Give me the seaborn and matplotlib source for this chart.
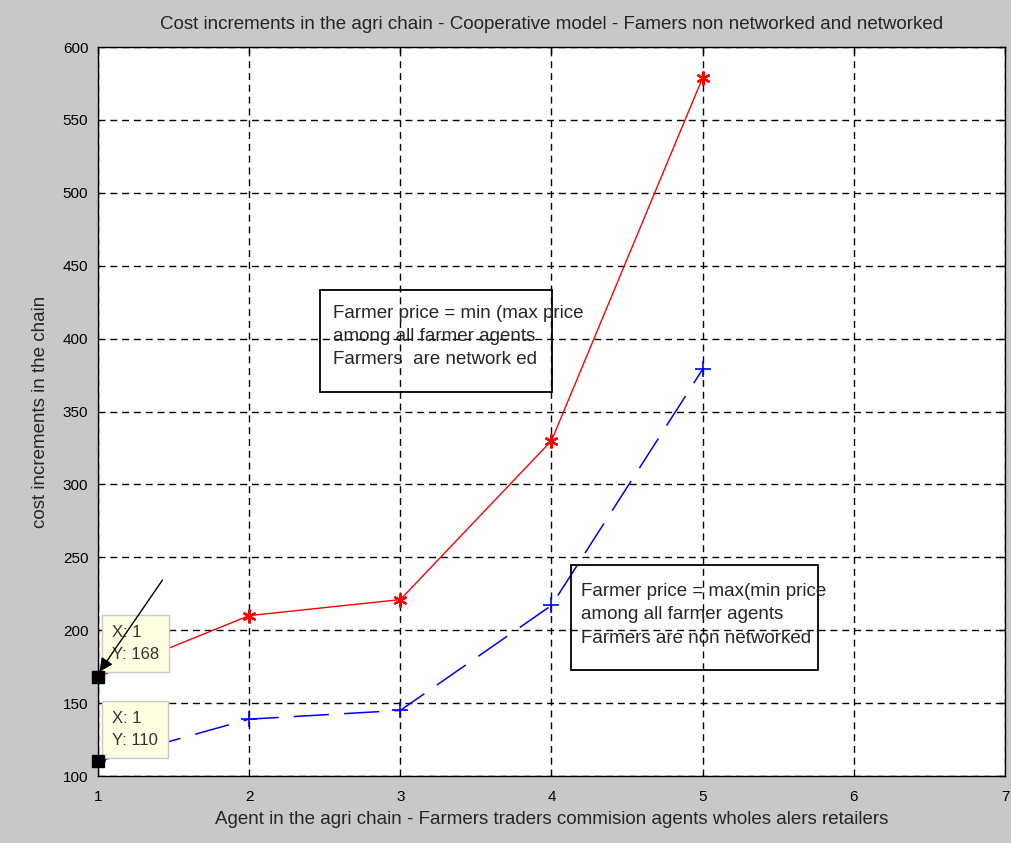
import matplotlib
matplotlib.use("Agg")
import matplotlib.pyplot as plt
from matplotlib.patches import Rectangle
import seaborn as sns
import pandas as pd

# Chain stages and cost values
agents = [1, 2, 3, 4, 5]
networked = [168, 210, 221, 330, 579]
non_networked = [110, 139, 145, 217, 379]
x_ticks = [1, 2, 3, 4, 5, 6, 7]
y_ticks = [100, 150, 200, 250, 300, 350, 400, 450, 500, 550, 600]

title = "Cost increments in the agri chain - Cooperative model - Famers non networked and networked"
xlabel = "Agent in the agri chain - Farmers traders commision agents wholes alers retailers"
ylabel = "cost increments in the chain"
note_networked = "Farmer price = min (max price\namong all farmer agents\nFarmers  are network ed"
note_non_networked = "Farmer price = max(min price\namong all farmer agents\nFarmers are non networked"

sns.set_style("white")
plt.rcParams["font.family"] = ["Liberation Sans", "DejaVu Sans"]

df = pd.DataFrame({"agent": agents, "networked": networked, "non_networked": non_networked})

fig = plt.figure(figsize=(10.12, 8.43), dpi=100, facecolor="#c8c8c8")
ax = fig.add_axes([98 / 1012, 1 - 776 / 843, 907 / 1012, 729 / 843])
ax.set_facecolor("white")

sns.lineplot(data=df, x="agent", y="networked", ax=ax, color="red", lw=1.0,
             marker=(6, 2, 0), markersize=10, markeredgewidth=1.6, markeredgecolor="red")
sns.lineplot(data=df, x="agent", y="non_networked", ax=ax, color="blue", lw=1.1,
             marker="+", markersize=12, markeredgewidth=1.2, markeredgecolor="blue",
             dashes=False, linestyle=(0, (23, 10)))

ax.set_xlim(1, 7)
ax.set_ylim(100, 600)
ax.set_xticks(x_ticks)
ax.set_yticks(y_ticks)
ax.grid(True, color="black", linestyle=(0, (5, 3.5)), linewidth=1.0)
ax.tick_params(direction="in", top=True, right=True, length=4, width=1,
               labelsize=11, colors="black")
ax.tick_params(axis="x", pad=10)
ax.tick_params(axis="y", pad=7)
for s in ax.spines.values():
    s.set_color("black")
    s.set_linewidth(1.0)

ax.set_title(title, fontsize=13.5, pad=13)
ax.set_xlabel(xlabel, fontsize=13.5, labelpad=5)
ax.set_ylabel(ylabel, fontsize=13.5, labelpad=10)

# Annotation boxes
ax.add_patch(Rectangle((0.2448, 0.5267), 0.2558, 0.1399, transform=ax.transAxes,
                       fill=False, edgecolor="black", lw=1.3, zorder=5))
ax.text(0.259, 0.6465, note_networked, transform=ax.transAxes, fontsize=13.5,
        va="top", ha="left", linespacing=1.48, zorder=6)
ax.add_patch(Rectangle((0.5215, 0.1454), 0.2723, 0.144, transform=ax.transAxes,
                       fill=False, edgecolor="black", lw=1.3, zorder=5))
ax.text(0.532, 0.2645, note_non_networked, transform=ax.transAxes, fontsize=13.5,
        va="top", ha="left", linespacing=1.48, zorder=6)

# Data tips at the first stage
for yv in (networked[0], non_networked[0]):
    ax.plot([1], [yv], marker="s", color="black", markersize=9, clip_on=False, zorder=8)
ax.text(1.095, networked[0] + 10, f"X: 1\nY: {networked[0]}", fontsize=12, color="#333333",
        va="bottom", ha="left", linespacing=1.6, zorder=7,
        bbox=dict(boxstyle="square,pad=0.6", facecolor="#ffffe1", edgecolor="#c8c8c8"))
ax.text(1.095, non_networked[0] + 9, f"X: 1\nY: {non_networked[0]}", fontsize=12, color="#333333",
        va="bottom", ha="left", linespacing=1.6, zorder=7,
        bbox=dict(boxstyle="square,pad=0.6", facecolor="#ffffe1", edgecolor="#c8c8c8"))
ax.annotate("", xy=(1.0, networked[0] + 2), xytext=(1.437, 236),
            arrowprops=dict(arrowstyle="-|>", color="black", lw=1.0, mutation_scale=20),
            zorder=9)

fig.savefig("out.png", dpi=100, facecolor=fig.get_facecolor())
